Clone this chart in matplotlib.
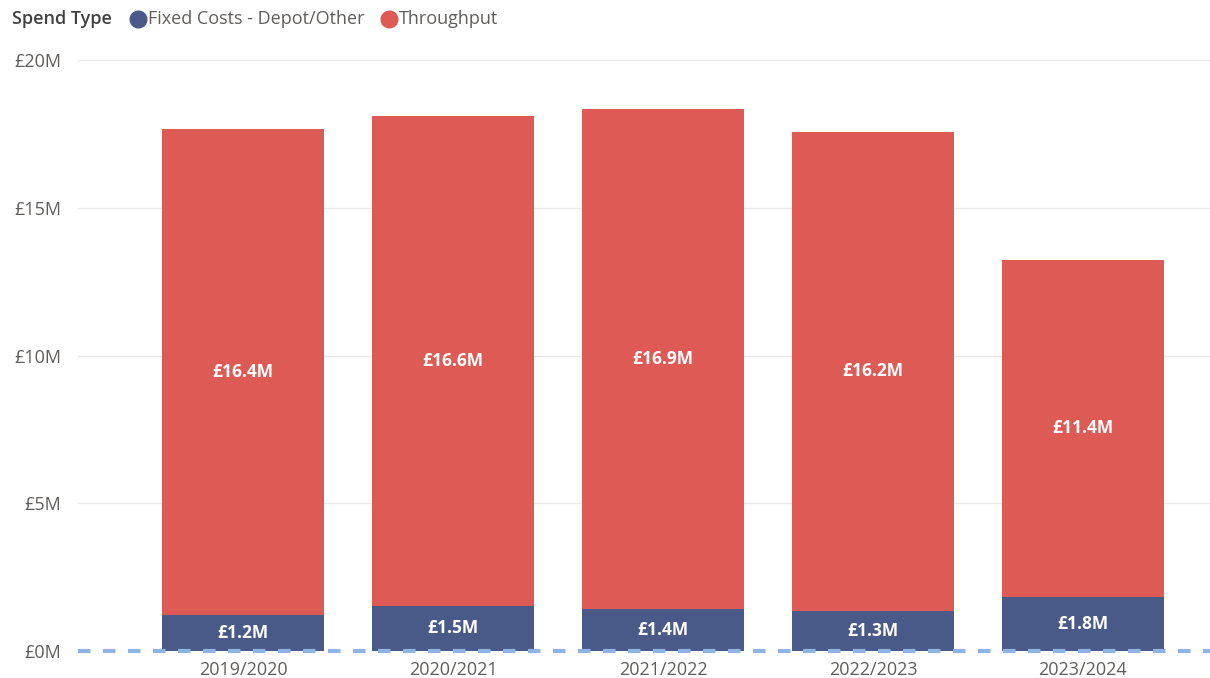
import matplotlib.pyplot as plt
from matplotlib.lines import Line2D
import numpy as np

plt.rcParams['font.family'] = ['Open Sans', 'DejaVu Sans']

years = ['2019/2020', '2020/2021', '2021/2022', '2022/2023', '2023/2024']
fixed_costs = [1.22, 1.54, 1.42, 1.34, 1.83]
throughput = [16.44, 16.56, 16.92, 16.24, 11.40]
y_ticks = [0, 5, 10, 15, 20]

NAVY = '#4A5A88'
RED = '#DD5A55'

fig = plt.figure(figsize=(12.1, 6.78), dpi=100)
ax = fig.add_axes([0.0645, 0.0398, 0.9355, 0.8717])

x = np.arange(len(years))
w = 0.77
ax.bar(x, fixed_costs, width=w, color=NAVY, zorder=3)
ax.bar(x, throughput, width=w, bottom=fixed_costs, color=RED, zorder=3)

for xi, f, t in zip(x, fixed_costs, throughput):
    ax.text(xi, f / 2, f'£{f:.1f}M', ha='center', va='center', color='white',
            fontsize=12.5, fontweight='bold', zorder=4)
    ax.text(xi, f + t / 2, f'£{t:.1f}M', ha='center', va='center', color='white',
            fontsize=12.5, fontweight='bold', zorder=4)

ax.set_xlim(-0.786, 4.605)
ax.set_ylim(0, 20)
ax.set_yticks(y_ticks)
ax.set_yticklabels([f'£{v}M' for v in y_ticks])
ax.set_xticks(x)
ax.set_xticklabels(years)
ax.tick_params(length=0, colors='#605E5C', labelsize=13)
ax.tick_params(axis='y', pad=12)
ax.tick_params(axis='x', pad=7)

ax.grid(axis='y', color='#E8E8E8', linewidth=1, zorder=0)
for s in ax.spines.values():
    s.set_visible(False)
ax.axhline(0, color='#8DB4E2', linewidth=3, linestyle=(0, (3, 3)), zorder=5, clip_on=False)

# legend row
ly = 1 - 19 / 678
fig.text(12 / 1210, ly, 'Spend Type', fontsize=13, fontweight='semibold',
         color='#404040', va='center', ha='left')
for cx, tx, col, name in [(138, 148, NAVY, 'Fixed Costs - Depot/Other'),
                          (389, 399, RED, 'Throughput')]:
    fig.add_artist(Line2D([cx / 1210], [ly], marker='o', markersize=12, color=col,
                          linestyle='none', transform=fig.transFigure))
    fig.text(tx / 1210, ly, name, fontsize=13, color='#605E5C', va='center', ha='left')

fig.savefig('out.png', dpi=100)
